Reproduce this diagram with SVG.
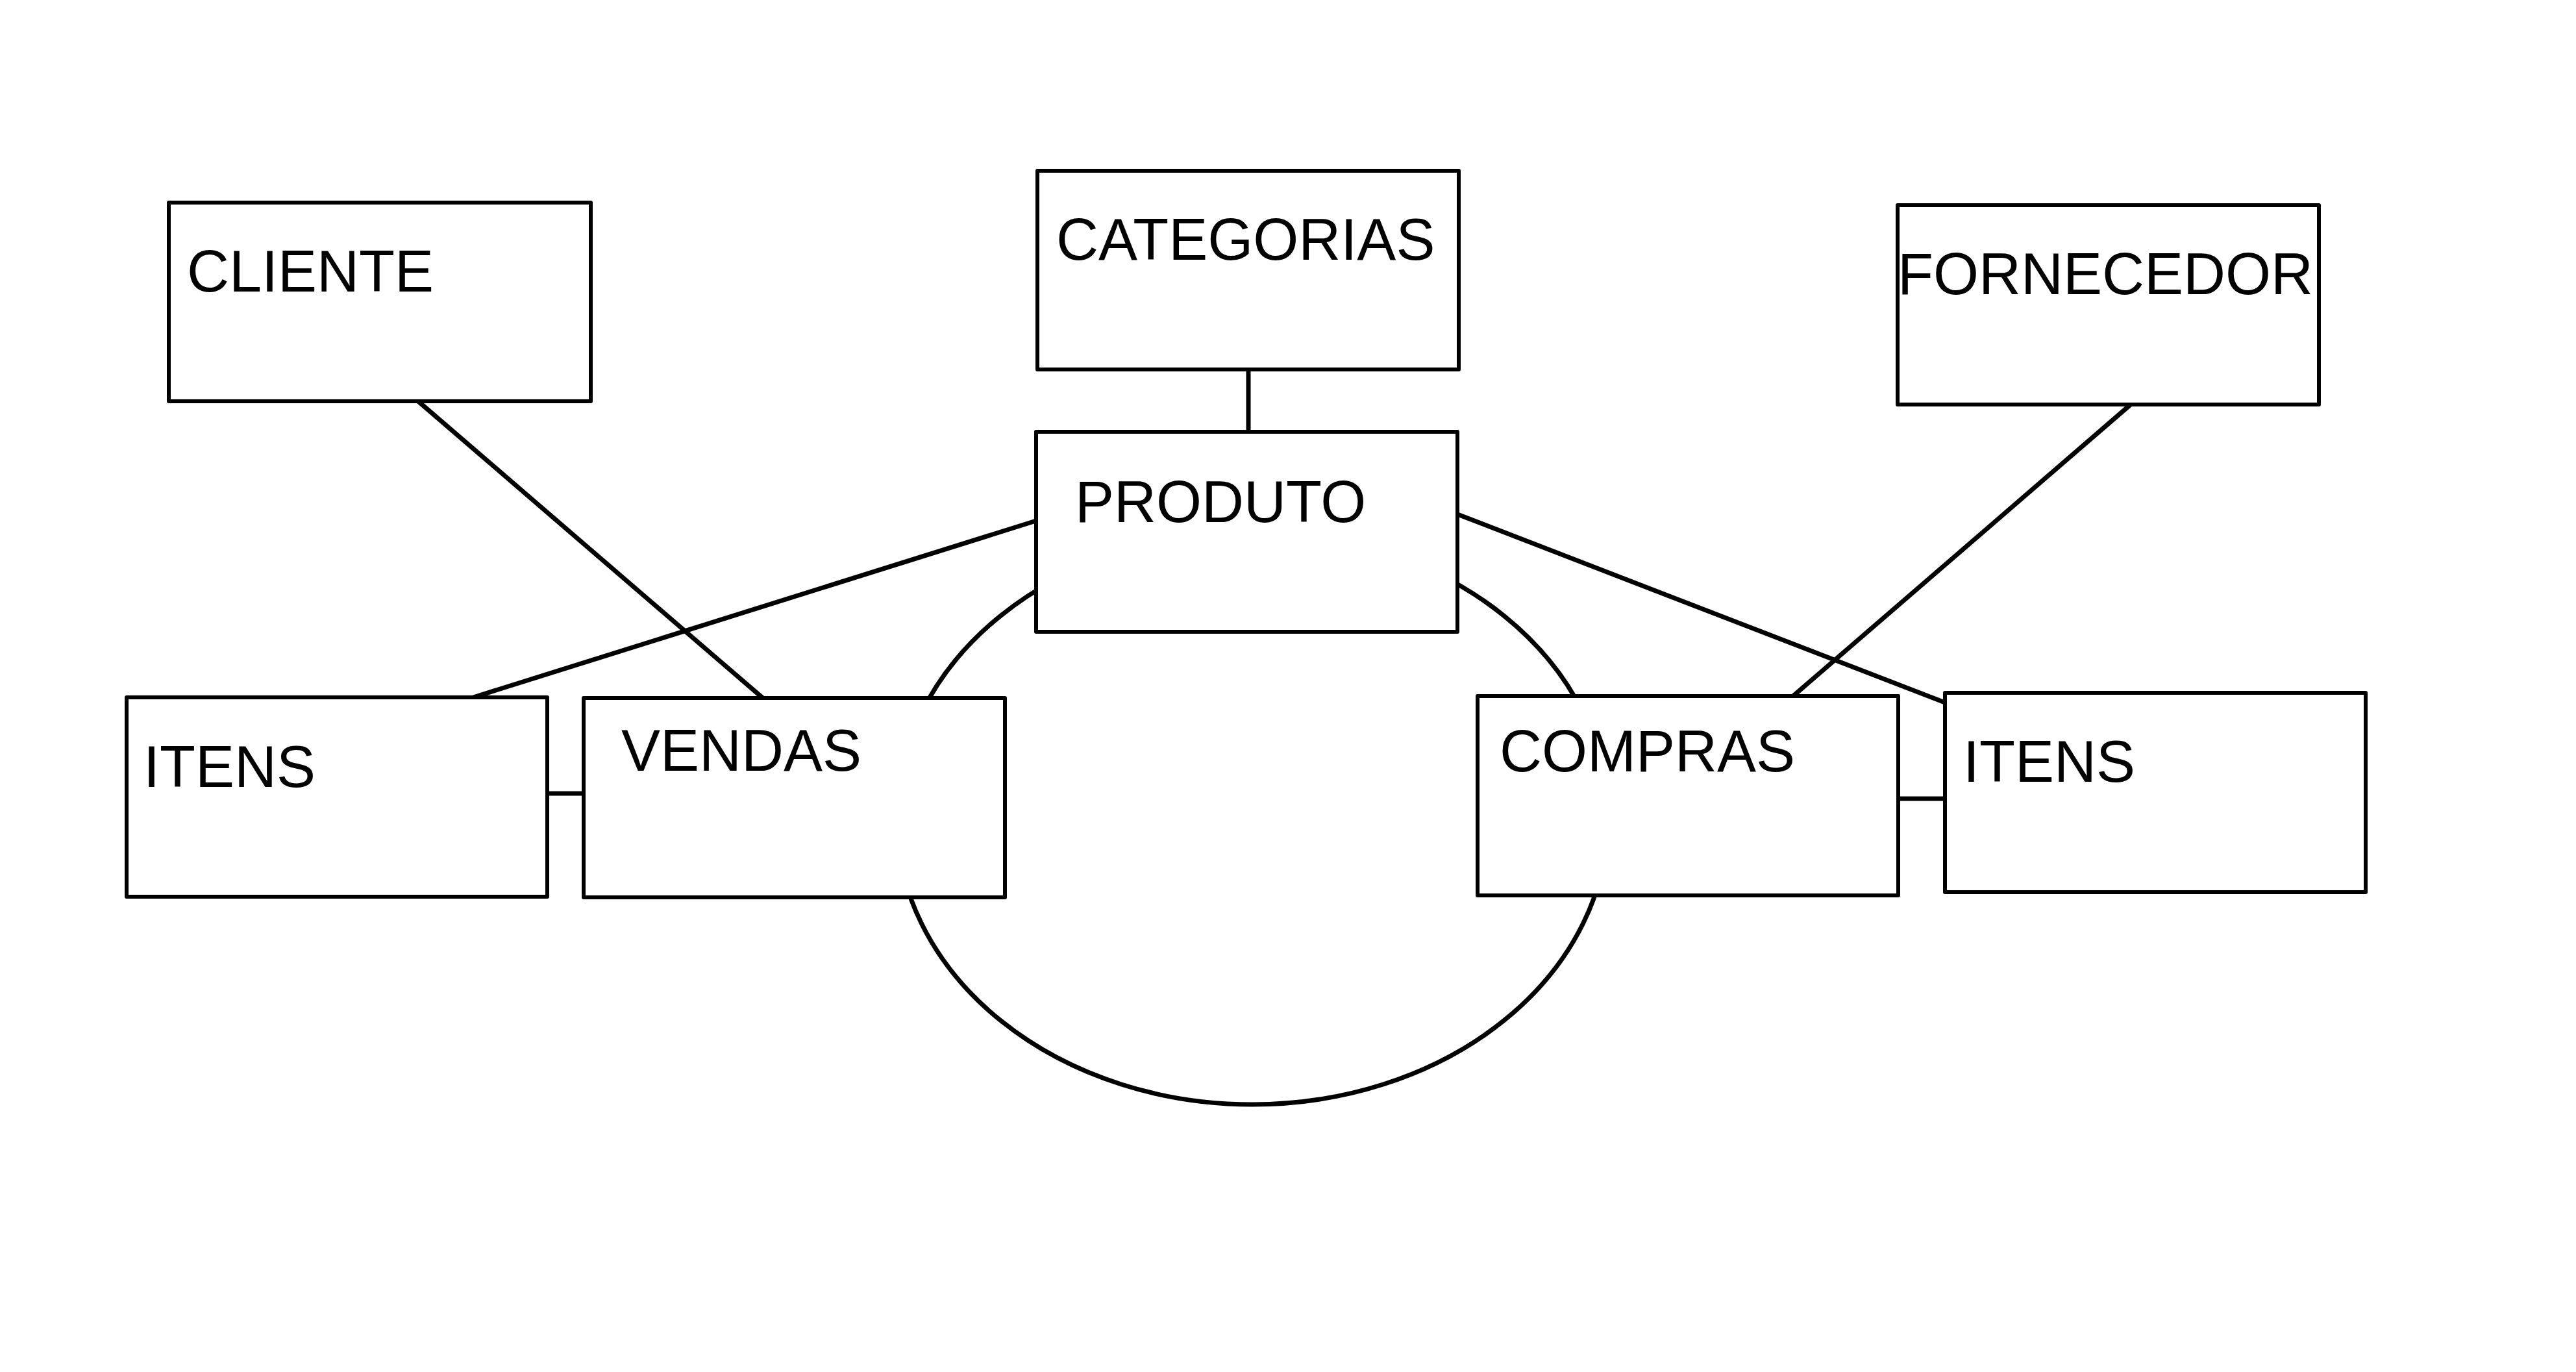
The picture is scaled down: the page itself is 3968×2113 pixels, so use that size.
<svg xmlns="http://www.w3.org/2000/svg" width="3968" height="2113" viewBox="0 0 3968 2113">
<style>
.box{fill:#fff;stroke:#000;stroke-width:6;stroke-linejoin:round}
.ln{fill:none;stroke:#000;stroke-width:7}
.lbl{font-family:"Liberation Sans",Arial,sans-serif;font-size:90px;fill:#000}
</style>
<rect width="3968" height="2113" fill="#fff"/>
<g id="connectors">
<ellipse class="ln" cx="1929" cy="1260" rx="548" ry="441"/>
<line class="ln" x1="1923" y1="569" x2="1923" y2="666"/>
<line class="ln" x1="643" y1="617" x2="1175" y2="1075"/>
<line class="ln" x1="1596" y1="802" x2="729" y2="1074"/>
<line class="ln" x1="2245" y1="792" x2="2996" y2="1082"/>
<line class="ln" x1="3282" y1="623" x2="2762" y2="1072"/>
<line class="ln" x1="843" y1="1222" x2="899" y2="1222"/>
<line class="ln" x1="2924" y1="1230" x2="2996" y2="1230"/>
</g>
<g id="cliente"><rect class="box" x="260" y="312" width="650" height="306"/><text class="lbl" x="288" y="449">CLIENTE</text></g>
<g id="categorias"><rect class="box" x="1598" y="263" width="649" height="306"/><text class="lbl" x="1627" y="400">CATEGORIAS</text></g>
<g id="fornecedor"><rect class="box" x="2923" y="316" width="649" height="307"/><text class="lbl" x="2923" y="453">FORNECEDOR</text></g>
<g id="produto"><rect class="box" x="1596" y="665" width="649" height="308"/><text class="lbl" x="1656" y="804">PRODUTO</text></g>
<g id="itens-vendas"><rect class="box" x="195" y="1074" width="648" height="307"/><text class="lbl" x="221" y="1212">ITENS</text></g>
<g id="vendas"><rect class="box" x="899" y="1075" width="649" height="307"/><text class="lbl" x="957" y="1187">VENDAS</text></g>
<g id="compras"><rect class="box" x="2276" y="1072" width="648" height="307"/><text class="lbl" x="2310" y="1188">COMPRAS</text></g>
<g id="itens-compras"><rect class="box" x="2996" y="1067" width="648" height="307"/><text class="lbl" x="3024" y="1204">ITENS</text></g>
</svg>
